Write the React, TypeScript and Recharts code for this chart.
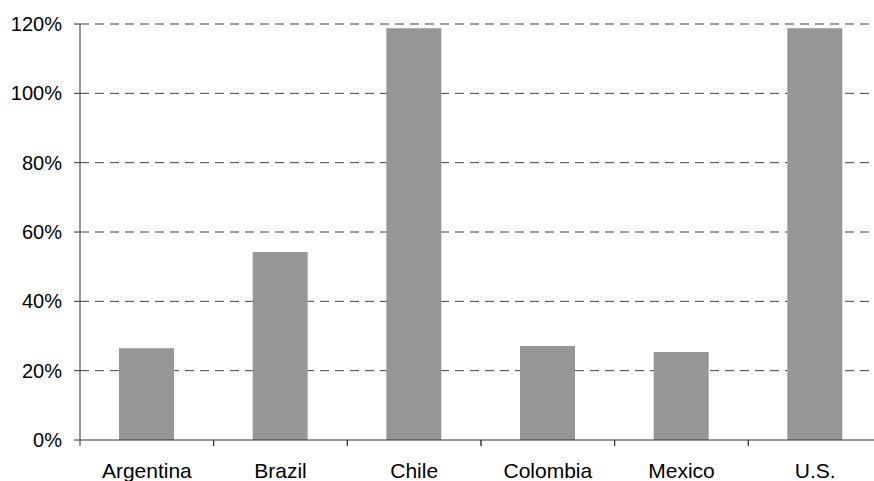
import { BarChart, Bar, XAxis, YAxis, CartesianGrid } from 'recharts';

const countries = ['Argentina', 'Brazil', 'Chile', 'Colombia', 'Mexico', 'U.S.'];
const ratios = [26.5, 54.2, 118.8, 27.1, 25.4, 118.8];
const yTicks = [0, 20, 40, 60, 80, 100, 120];

const chartData = countries.map((c, i) => ({ country: c, value: ratios[i] }));

const FONT = '"Liberation Sans", Arial, sans-serif';
const AXIS = '#333333';

// category ticks sit on the boundaries between bars, not under them
const CountryTick = (props: any) => {
  const { x, y, payload } = props;
  const half = payload?.offset ?? 0;
  const axisY = y - 23;
  return (
    <g>
      <line x1={x - half} x2={x - half} y1={axisY} y2={axisY + 6} stroke={AXIS} />
      <line x1={x + half} x2={x + half} y1={axisY} y2={axisY + 6} stroke={AXIS} />
      <text
        x={x}
        y={y}
        dy="0.71em"
        textAnchor="middle"
        fill="#000"
        fontSize={21}
        fontFamily={FONT}
      >
        {payload.value}
      </text>
    </g>
  );
};

export default function App() {
  return (
    <div
      style={{
        position: 'absolute',
        left: 0,
        top: 0,
        width: 874,
        height: 481,
        overflow: 'hidden',
        background: '#fff',
      }}
    >
      <BarChart
        width={890}
        height={481}
        data={chartData}
        margin={{ top: 24, right: 8, left: 0, bottom: 0 }}
      >
        <CartesianGrid
          vertical={false}
          horizontalValues={yTicks.slice(1)}
          stroke="#404040"
          strokeDasharray="9 6"
        />
        <XAxis
          dataKey="country"
          height={41}
          tickSize={6}
          tickMargin={17}
          tickLine={false}
          axisLine={{ stroke: AXIS }}
          tick={<CountryTick />}
          interval={0}
        />
        <YAxis
          width={80}
          domain={[0, 120]}
          ticks={yTicks}
          tickFormatter={v => `${v}%`}
          tickSize={6}
          tickMargin={12}
          axisLine={{ stroke: AXIS }}
          tickLine={{ stroke: AXIS }}
          tick={{ fill: '#000', fontSize: 20, fontFamily: FONT }}
          interval={0}
        />
        <Bar dataKey="value" fill="#969696" barSize={55} isAnimationActive={false} />
      </BarChart>
    </div>
  );
}
